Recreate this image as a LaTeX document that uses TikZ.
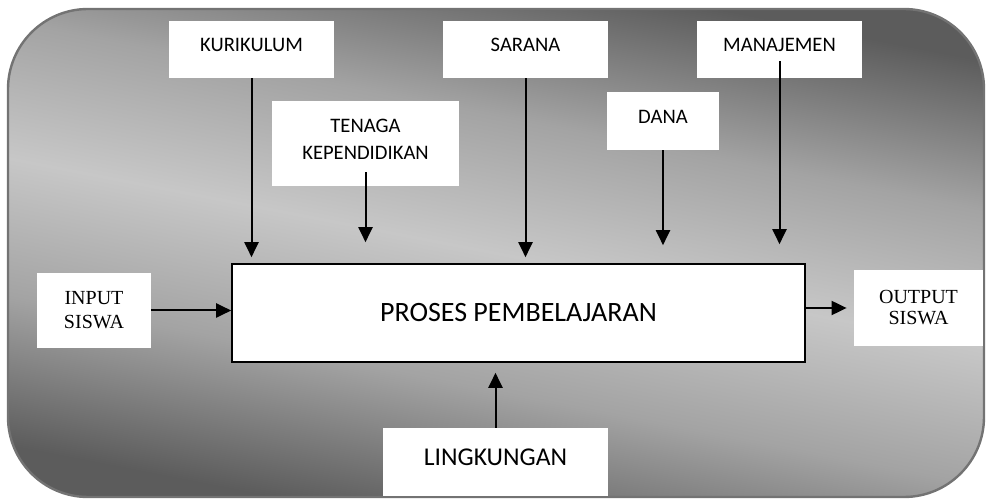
\documentclass[tikz,border=0pt]{standalone}
\usepackage{fontspec}
\setmainfont{Carlito}
\newfontfamily\hurufserif{Liberation Serif}
\usetikzlibrary{arrows.meta}

\pgfdeclareverticalshading{latarabu}{100bp}{color(0bp)=(black!64); color(25bp)=(black!64);
  color(38bp)=(black!36); color(50bp)=(black!22); color(62bp)=(black!36);
  color(75bp)=(black!64); color(100bp)=(black!64)}

\tikzset{
  kotak/.style={fill=white, inner sep=0pt, align=center,
    font=\fontsize{10.3}{13.5}\selectfont},
  kotakserif/.style={kotak, font=\hurufserif\fontsize{10}{12}\selectfont},
  naik/.style={text depth=4.5pt},
  panah/.style={-{Triangle[length=7.5pt,width=7pt]}, line width=1pt},
}

\begin{document}
\begin{tikzpicture}[x=0.5pt,y=-0.5pt]
    \useasboundingbox (0,0) rectangle (987,502);

    % Latar belakang dengan gradasi abu-abu.
    \path[draw=black!55, line width=1.2pt, rounded corners=40pt,
          shading=latarabu, shading angle=-11] (8,9) rectangle (984,497);

    % Kotak-kotak komponen.
    \node[kotak, naik, minimum width=82.5pt, minimum height=28.5pt] (kurikulum) at (251.5,49.5) {KURIKULUM};
    \node[kotak, naik, minimum width=82.5pt, minimum height=28.5pt] (sarana) at (525.5,49.5) {SARANA};
    \node[kotak, naik, minimum width=82.5pt, minimum height=28.5pt] (manajemen) at (779.5,49.5) {MANAJEMEN};
    \node[kotak, naik, minimum width=93.5pt, minimum height=42.5pt] (tenaga) at (365.5,143.5) {TENAGA\\KEPENDIDIKAN};
    \node[kotak, naik, minimum width=56pt, minimum height=29pt] (dana) at (663,121) {DANA};
    \node[kotakserif, minimum width=57pt, minimum height=37.5pt] (input) at (94,310.5) {INPUT\\SISWA};
    \node[kotakserif, font=\hurufserif\fontsize{10}{10.5}\selectfont, minimum width=64.5pt, minimum height=38pt] (output) at (918.5,308) {OUTPUT\\SISWA};
    \node[kotak, draw, line width=0.8pt, font=\fontsize{14}{16}\selectfont, minimum width=286.5pt, minimum height=49pt] (proses) at (518.5,313) {PROSES PEMBELAJARAN};
    \node[kotak, naik, font=\fontsize{12.8}{15}\selectfont, minimum width=112.5pt, minimum height=34pt] (lingkungan) at (495.5,462) {LINGKUNGAN};

    % Panah menuju proses.
    \draw[panah, shorten >=3pt] (kurikulum.south) -- (kurikulum.south |- proses.north);
    \draw[panah, shorten >=10.5pt] ([yshift=7pt]tenaga.south) -- (tenaga.south |- proses.north);
    \draw[panah, shorten >=3pt] (sarana.south) -- (sarana.south |- proses.north);
    \draw[panah, shorten >=9pt] (dana.south) -- (dana.south |- proses.north);
    \draw[panah, shorten >=9.5pt] ([yshift=8.5pt]manajemen.south) -- (manajemen.south |- proses.north);
    \draw[panah] (input.east) -- (input.east -| proses.west);
    \draw[panah, shorten >=5pt] (lingkungan.north) -- (lingkungan.north |- proses.south);
    \draw[panah, shorten >=3.5pt] (output.west -| proses.east) -- (output.west);
\end{tikzpicture}
\end{document}
